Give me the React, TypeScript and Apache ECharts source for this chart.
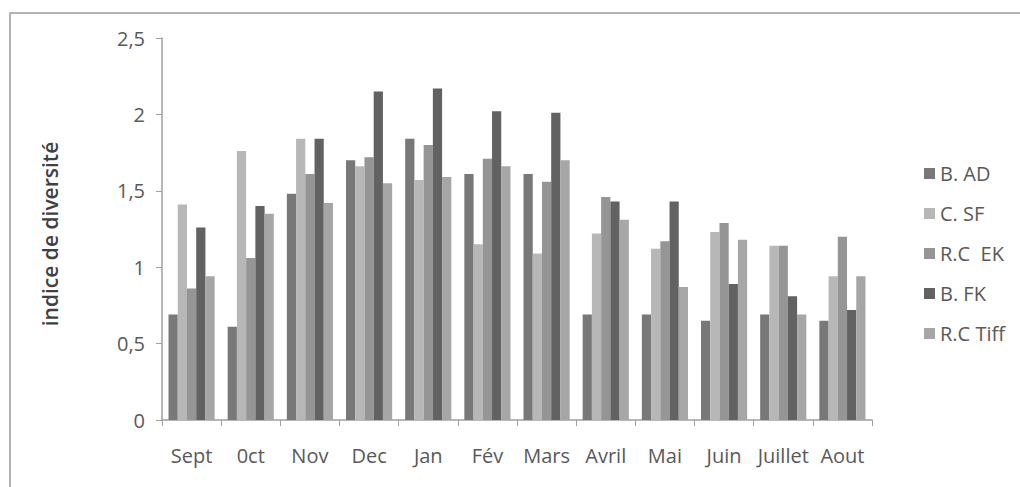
import React, { useEffect, useRef } from "react";
import * as echarts from "echarts";

const months = ["Sept", "0ct", "Nov", "Dec", "Jan", "Fév", "Mars", "Avril", "Mai", "Juin", "Juillet", "Aout"];
const seriesNames = ["B. AD", "C. SF", "R.C  EK", "B. FK", "R.C Tiff"];
const bAD = [0.69, 0.61, 1.48, 1.70, 1.84, 1.61, 1.61, 0.69, 0.69, 0.65, 0.69, 0.65];
const cSF = [1.41, 1.76, 1.84, 1.66, 1.57, 1.15, 1.09, 1.22, 1.12, 1.23, 1.14, 0.94];
const rcEK = [0.86, 1.06, 1.61, 1.72, 1.80, 1.71, 1.56, 1.46, 1.17, 1.29, 1.14, 1.20];
const bFK = [1.26, 1.40, 1.84, 2.15, 2.17, 2.02, 2.01, 1.43, 1.43, 0.89, 0.81, 0.72];
const rcTiff = [0.94, 1.35, 1.42, 1.55, 1.59, 1.66, 1.70, 1.31, 0.87, 1.18, 0.69, 0.94];
const yTicks = [0, 0.5, 1, 1.5, 2, 2.5];

const seriesData = [bAD, cSF, rcEK, bFK, rcTiff];
const colors = ["#787878", "#b7b7b7", "#959595", "#626262", "#a6a6a6"];

const FONT = "'Open Sans', 'Noto Sans', sans-serif";

export default function App() {
  const ref = useRef<HTMLDivElement>(null);
  useEffect(() => {
    if (!ref.current) return;
    const chart = echarts.init(ref.current, undefined, { renderer: "svg" });
    chart.setOption({
      animation: false,
      backgroundColor: "#ffffff",
      textStyle: { fontFamily: FONT },
      graphic: [
        {
          type: "rect",
          shape: { x: 10, y: 13, width: 1030, height: 500 },
          style: { fill: "none", stroke: "#9a9a9a", lineWidth: 1.5 },
          silent: true,
        },
      ],
      grid: { left: 162, top: 38, right: 148, bottom: 67, containLabel: false },
      legend: {
        orient: "vertical",
        left: 919,
        top: 156,
        itemWidth: 11,
        itemHeight: 11,
        itemGap: 15,
        icon: "rect",
        data: seriesNames,
        textStyle: { fontFamily: FONT, fontSize: 20, color: "#595959", lineHeight: 25 },
      },
      xAxis: {
        type: "category",
        data: months,
        boundaryGap: true,
        axisLine: { lineStyle: { color: "#9f9f9f", width: 1.5 } },
        axisTick: { show: true, length: 6, lineStyle: { color: "#9f9f9f" }, alignWithLabel: false },
        axisLabel: { fontFamily: FONT, fontSize: 20, color: "#595959", margin: 25, interval: 0 },
      },
      yAxis: {
        type: "value",
        min: 0,
        max: 2.5,
        interval: 0.5,
        name: "indice de diversité",
        nameLocation: "middle",
        nameGap: 102,
        nameRotate: 90,
        nameTextStyle: { fontFamily: FONT, fontSize: 21, color: "#404040", fontWeight: 600, padding: [0, 10, 0, 0] },
        axisLine: { show: true, lineStyle: { color: "#9f9f9f", width: 1.5 } },
        axisTick: { show: true, length: 6, lineStyle: { color: "#9f9f9f" } },
        splitLine: { show: false },
        axisLabel: {
          fontFamily: FONT,
          fontSize: 20,
          color: "#595959",
          margin: 17,
          formatter: (v: number) => {
            const found = yTicks.find((t) => Math.abs(t - v) < 1e-9);
            return found === undefined ? "" : String(found).replace(".", ",");
          },
        },
      },
      series: seriesNames.map((name, i) => ({
        name,
        type: "bar",
        data: seriesData[i],
        barGap: "0%",
        barCategoryGap: "22%",
        itemStyle: { color: colors[i] },
      })),
    });
    return () => chart.dispose();
  }, []);
  return <div ref={ref} style={{ width: 1020, height: 487, position: "absolute", left: 0, top: 0 }} />;
}
